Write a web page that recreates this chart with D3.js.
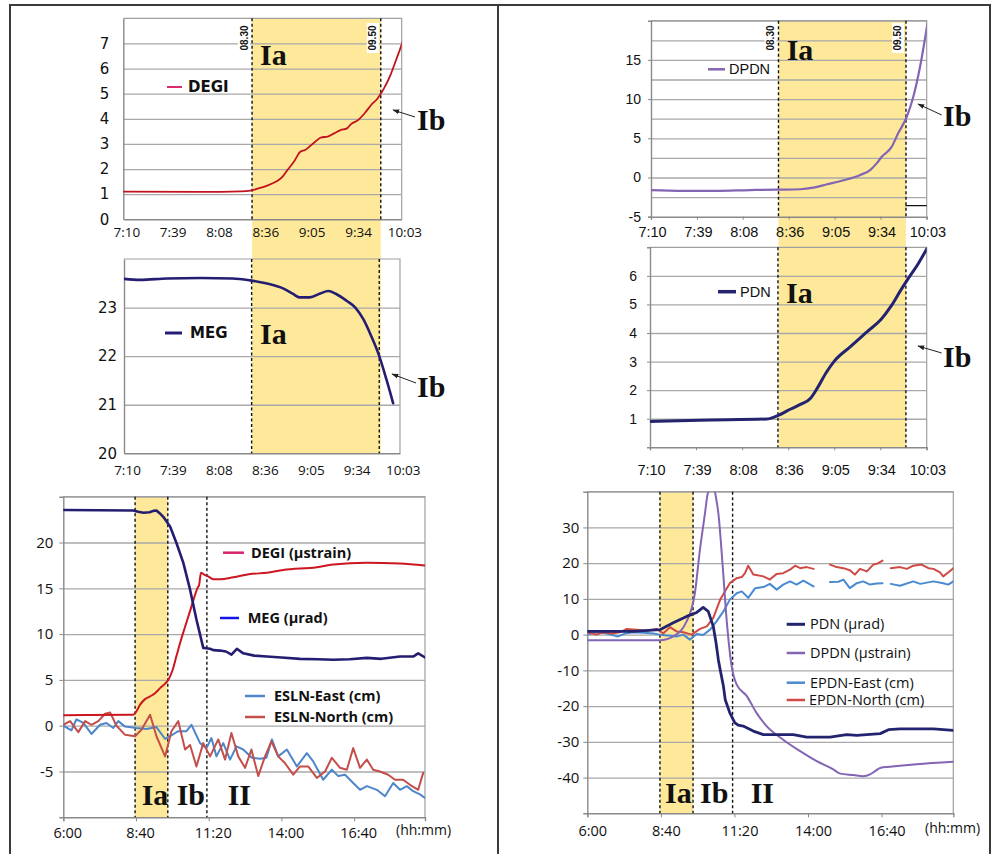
<!DOCTYPE html>
<html>
<head>
<meta charset="utf-8">
<script src="https://cdnjs.cloudflare.com/ajax/libs/d3/7.8.5/d3.min.js"></script>
<style>
  body { margin: 0; background: #fff; }
  svg { display: block; }
</style>
</head>
<body>
<svg id="chart" width="992" height="854"></svg>
<script>
// ---- data (time in minutes after midnight) ----
const topTickT = [430, 458.8, 487.6, 516.4, 545.2, 574, 602.8];
const topTickLabels = ['7:10', '7:39', '8:08', '8:36', '9:05', '9:34', '10:03'];
const bottomTickT = [360, 520, 680, 840, 1000];
const bottomTickLabels = ['6:00', '8:40', '11:20', '14:00', '16:40'];

const topPhaseT = [510, 590];
const topPhaseLabels = ['08.30', '09.50'];
const bottomPhaseT = [518, 590, 676];

const degiTop = [[430,1.1],[478,1.09],[503,1.11],[509,1.14],[514,1.23],[519,1.33],[525,1.5],[529,1.7],[532,1.96],[536,2.29],[540,2.69],[543,2.76],[548.5,3.05],[553,3.26],[557,3.29],[561,3.42],[565,3.55],[569,3.62],[571.5,3.79],[575.5,3.93],[580,4.22],[584,4.55],[588,4.81],[592,5.21],[596,5.74],[599.5,6.34],[602.5,6.87],[603.5,7.07]];

const megTop = [[430,23.59],[440,23.57],[457,23.6],[478,23.61],[498,23.6],[509,23.56],[519,23.5],[530,23.39],[536,23.28],[540,23.21],[546.5,23.21],[553,23.29],[558,23.34],[563,23.28],[569.5,23.14],[575,23.0],[580,22.76],[585,22.41],[590,22.0],[594.5,21.52],[598.7,21.03]];

const dpdnTop = [[430,-1.6],[450,-1.7],[471,-1.7],[492,-1.6],[509,-1.55],[523.5,-1.5],[532,-1.3],[540,-0.9],[551,-0.35],[561,0.3],[567.5,0.95],[571.6,1.8],[574.8,2.65],[581,3.9],[585,5.6],[590.5,7.75],[594.6,10.3],[598.8,14.1],[604,20.3]];
const dpdnStub = [[590,-3.6],[603,-3.6]];

const pdnTop = [[430,0.9],[461,0.95],[503,0.99],[509.5,1.1],[518,1.34],[524,1.5],[530.4,1.72],[534.6,2.07],[540,2.6],[545,3.0],[555.5,3.53],[566,4.06],[574.4,4.47],[580.6,4.93],[587,5.52],[591,5.87],[597.4,6.4],[603.6,7.0]];

const degiDay = [[360,1.15],[514,1.2],[520,1.5],[529,2.3],[540,2.9],[551,3.2],[562,3.55],[573,4.1],[584,4.6],[591,5.0],[600,6.0],[609,7.6],[618,9.2],[628,10.8],[642,13.0],[655,15.0],[659,15.4],[663,16.7],[670,16.5],[679,16.3],[690,16.0],[705,16.0],[734,16.2],[771,16.55],[808,16.7],[844,17.0],[918,17.3],[954,17.6],[1028,17.8],[1101,17.7],[1156,17.5]];

const megDay = [[360,23.55],[514,23.5],[525,23.35],[536,23.25],[550,23.3],[558,23.45],[565,23.5],[572,23.2],[580,22.8],[595,21.75],[609,19.95],[624,17.8],[639,14.85],[653,11.6],[668,8.5],[675,8.45],[683,8.4],[690,8.25],[705,8.2],[718,8.1],[730,7.75],[742,8.4],[756,7.9],[780,7.65],[808,7.55],[840,7.45],[881,7.3],[920,7.25],[954,7.2],[990,7.25],[1028,7.4],[1060,7.3],[1101,7.55],[1130,7.55],[1141,7.9],[1156,7.45]];

const eslnEast = [[360,0],[378,-0.5],[389,0.7],[404,0.3],[422,-0.9],[441,0.1],[455,0.3],[470,-0.25],[481,0.5],[496,-0.1],[521,-0.25],[543,-0.35],[565,-0.15],[584,-1.45],[595,-1.15],[613,-0.6],[631,-0.6],[642,0.1],[661,-1.9],[675,-2.45],[686,-1.35],[697,-3.35],[712,-1.9],[727,-3.7],[741,-2.25],[756,-2.6],[775,-3.5],[793,-3.6],[807,-3.5],[819,-1.5],[833,-3.35],[852,-2.6],[874,-4.45],[896,-3.0],[910,-3.9],[932,-5.9],[951,-4.8],[965,-5.5],[980,-5.35],[998,-6.25],[1013,-7.0],[1028,-6.6],[1050,-7.0],[1068,-7.7],[1086,-6.25],[1101,-7.0],[1116,-6.6],[1130,-7.15],[1145,-7.5],[1156,-7.9]];

const eslnNorth = [[360,0.1],[375,0.5],[393,-0.7],[408,0.5],[422,0.1],[437,0.5],[452,1.3],[463,1.45],[477,0],[496,-1.0],[518,-1.15],[532,-0.45],[551,1.2],[565,-1.15],[584,-3.35],[598,-0.6],[613,0.5],[628,-2.6],[639,-2.1],[653,-4.45],[668,-1.9],[683,-3.35],[701,-1.5],[716,-3.7],[730,-0.8],[745,-3.35],[760,-4.6],[774,-2.6],[789,-5.5],[804,-3.35],[818,-1.7],[833,-3.35],[848,-4.1],[866,-5.35],[881,-4.45],[899,-4.45],[918,-5.7],[936,-5.0],[951,-3.5],[969,-4.6],[984,-4.8],[998,-2.45],[1013,-4.6],[1028,-3.7],[1042,-4.8],[1057,-5.0],[1075,-5.35],[1090,-5.9],[1108,-5.9],[1123,-6.45],[1141,-7.0],[1152,-5.15]];

const pdnDay = [[360,0.9],[460,0.9],[518,1.4],[547,3.3],[576,5.1],[598,6.2],[612,7.6],[623,6.5],[634,2.3],[640,-2.3],[645,-7.0],[649,-9.8],[656,-14.4],[660,-18.2],[670,-21.9],[681,-24.7],[688,-25.3],[699,-25.6],[721,-27],[743,-28],[772,-28],[808,-28],[837,-28.7],[888,-28.7],[924,-28],[946,-28.2],[997,-27.7],[1015,-26.6],[1040,-26.4],[1113,-26.4],[1156,-26.8]];

const dpdnDay = [[360,-1.6],[518,-1.6],[547,-0.5],[576,3.7],[594,11.6],[605,23.8],[616,34],[622,39.5],[628,40.8],[636,40.5],[641,37.5],[645,34],[654,20],[663,4.2],[674,-8.9],[685,-14],[707,-17.2],[728,-21.9],[750,-25.6],[786,-29.4],[823,-32.6],[859,-35.4],[895,-37.7],[910,-38.9],[939,-39.3],[960,-39.6],[975,-39.1],[986,-38.2],[997,-37.3],[1018,-37],[1076,-36.3],[1156,-35.6]];

const epdnEast = [[360,0],[380,0.65],[402,0.3],[427,-0.5],[442,0.3],[460,0.65],[482,0.5],[504,0.3],[518,0],[540,-0.3],[554,-0.5],[569,0],[583,-1.4],[598,0.2],[612,-0.1],[627,1.4],[641,3.7],[656,6.5],[670,9.8],[685,11.6],[696,12.1],[710,10.3],[725,13],[743,13.3],[757,14.2],[772,12.6],[786,14],[801,14.9],[815,14],[830,15.1],[852,13.5],[870,null],[888,14.7],[906,14.8],[917,15.4],[931,13],[946,14.4],[960,14.9],[975,14],[989,14.3],[1002,14.4],[1011,null],[1020,14.2],[1040,13.7],[1069,14.9],[1084,14.2],[1113,14.9],[1134,14.4],[1145,14],[1156,14.9]];

const epdnNorth = [[360,0.65],[380,0],[395,0.65],[413,0.3],[431,0.65],[446,1.6],[467,1.4],[489,1.1],[511,1.6],[525,0.3],[540,2.1],[554,0.9],[569,0.65],[587,0],[605,1.6],[620,2.3],[634,4.7],[649,9.8],[670,14.4],[685,15.8],[696,16.1],[703,17.2],[710,19.3],[721,16.8],[743,16.3],[757,15.4],[772,17],[786,17.2],[801,18.2],[812,19.3],[823,18.6],[837,18.9],[852,18.4],[870,null],[888,19.6],[902,18.9],[917,18.6],[931,18],[942,16.8],[953,18.4],[968,17.7],[982,19.6],[993,20],[1002,20.7],[1011,null],[1020,18.6],[1040,18.9],[1055,18.4],[1069,19.3],[1087,19.6],[1102,18.6],[1113,18.4],[1127,17.4],[1134,16.3],[1145,17.4],[1156,18.6]];

// ---- styling ----
const YELLOW = '#fee99a';
const GRID = '#a9a9a9';
const AXIS = '#8a8a8a';
const SERIF = '"Liberation Serif", "Times New Roman", serif';
const CALI = '"Open Sans", "Noto Sans", sans-serif';
const NARROW = '"Liberation Sans Narrow", "Liberation Sans", Arial, sans-serif';
const VERD = '"DejaVu Sans", Verdana, sans-serif';

const svg = d3.select('#chart');

svg.append('defs').append('marker')
  .attr('id', 'arrow').attr('viewBox', '0 0 10 10')
  .attr('refX', 9).attr('refY', 5)
  .attr('markerWidth', 7).attr('markerHeight', 7)
  .attr('orient', 'auto')
  .append('path').attr('d', 'M0,1.5L10,5L0,8.5Z').attr('fill', '#222');

const fmtTop = (d) => topTickLabels[topTickT.indexOf(d)];
const fmtBottom = (d) => bottomTickLabels[bottomTickT.indexOf(d)];
const fmtY = (d) => String(d); // plain hyphen minus, as in the source

let clipId = 0;

function drawPanel(o) {
  const g = svg.append('g');
  const x = d3.scaleLinear().domain(o.xDomain).range([o.left, o.right]);
  const y = d3.scaleLinear().domain(o.yDomain).range([o.bottom, o.top]);
  const w = o.right - o.left;

  // yellow phase band
  if (o.band) {
    const by = o.bandY || [o.top, o.bottom];
    g.append('rect')
      .attr('x', x(o.band[0])).attr('width', x(o.band[1]) - x(o.band[0]))
      .attr('y', by[0]).attr('height', by[1] - by[0])
      .attr('fill', YELLOW);
  }

  // gridlines
  g.append('g')
    .attr('transform', `translate(${o.left},0)`)
    .call(d3.axisLeft(y).tickValues(o.grid).tickSize(-w).tickFormat(''))
    .call(s => s.select('.domain').remove())
    .selectAll('line').attr('stroke', GRID).attr('stroke-width', 1.3);

  // frame (top / right)
  g.append('path')
    .attr('d', `M${o.left},${o.top}H${o.right}V${o.bottom}`)
    .attr('fill', 'none').attr('stroke', '#a0a0a0').attr('stroke-width', 1.2);

  // y axis
  const ya = g.append('g')
    .attr('transform', `translate(${o.left},0)`)
    .call(d3.axisLeft(y).tickValues(o.yTicks).tickSize(o.tick || 0).tickPadding(o.yGap)
      .tickFormat(fmtY));
  ya.select('.domain').attr('stroke', AXIS).attr('stroke-width', 1.4);
  ya.selectAll('.tick line').attr('stroke', AXIS);
  ya.selectAll('text').attr('font-family', o.yFont).attr('font-size', o.ySize).attr('fill', '#111');

  // x axis
  const xa = g.append('g')
    .attr('transform', `translate(0,${o.bottom})`)
    .call(d3.axisBottom(x).tickValues(o.xTicks).tickSize(o.tick || 0).tickFormat(o.xFormat));
  xa.select('.domain').attr('stroke', AXIS).attr('stroke-width', 1.4);
  xa.selectAll('.tick line').attr('stroke', AXIS);
  xa.selectAll('text')
    .attr('font-family', o.xFont).attr('font-size', o.xSize).attr('fill', '#111')
    .attr('dy', null).attr('y', o.xLabelY).attr('dx', o.xLabelDx || 0);

  // phase dashed lines
  g.selectAll('line.phase').data(o.phases).join('line')
    .attr('class', 'phase')
    .attr('x1', (d) => x(d)).attr('x2', (d) => x(d))
    .attr('y1', o.top).attr('y2', o.bottom)
    .attr('stroke', '#111').attr('stroke-width', 1.4).attr('stroke-dasharray', '3,2.5');

  // series
  const cid = 'clip' + (clipId++);
  svg.select('defs').append('clipPath').attr('id', cid)
    .append('rect').attr('x', o.left).attr('y', o.top).attr('width', w).attr('height', o.bottom - o.top);
  const sg = g.append('g').attr('clip-path', `url(#${cid})`);
  for (const s of o.series) {
    const line = d3.line()
      .defined((d) => d[1] != null)
      .x((d) => x(d[0])).y((d) => y(d[1]))
      .curve(s.smooth ? d3.curveMonotoneX : d3.curveLinear);
    sg.append('path').datum(s.data)
      .attr('d', line)
      .attr('fill', 'none').attr('stroke', s.color).attr('stroke-width', s.width)
      .attr('stroke-linejoin', 'round').attr('stroke-linecap', 'round');
  }

  // legend
  for (const l of o.legend || []) {
    g.append('line')
      .attr('x1', l.x1).attr('x2', l.x2).attr('y1', l.y).attr('y2', l.y)
      .attr('stroke', l.color).attr('stroke-width', l.width || 2.5);
    g.append('text')
      .attr('x', l.tx).attr('y', l.y + 5)
      .attr('font-family', o.legendFont).attr('font-size', o.legendSize)
      .attr('font-weight', o.legendWeight).attr('fill', '#111')
      .text(l.label);
  }

  // big phase labels
  for (const b of o.big || []) {
    g.append('text')
      .attr('x', b.x).attr('y', b.y)
      .attr('font-family', SERIF).attr('font-weight', 'bold').attr('font-size', 30)
      .attr('fill', '#111')
      .text(b.text);
  }
  if (o.arrow) {
    g.append('line')
      .attr('x1', o.arrow[0]).attr('y1', o.arrow[1]).attr('x2', o.arrow[2]).attr('y2', o.arrow[3])
      .attr('stroke', '#222').attr('stroke-width', 1).attr('marker-end', 'url(#arrow)');
  }

  // rotated time stamps of phase limits
  if (o.stamps) {
    topPhaseT.forEach((t, i) => {
      const cx = x(t) - 8, cy = 38;
      g.append('rect').attr('x', cx - 6).attr('y', cy - 15).attr('width', 12).attr('height', 30).attr('fill', '#fff');
      g.append('text')
        .attr('transform', `translate(${cx + 3.5},${cy}) rotate(-90)`)
        .attr('text-anchor', 'middle')
        .attr('font-family', '"Liberation Sans", Arial, sans-serif').attr('font-weight', 'bold')
        .attr('font-size', 10).attr('fill', '#111')
        .text(topPhaseLabels[i]);
    });
  }
  return { x, y, g };
}

// ---- top-left: DEGI ----
drawPanel({
  left: 123.3, right: 401.7, top: 18.3, bottom: 219.3,
  xDomain: [430, 603], yDomain: [0, 8],
  xTicks: topTickT, xFormat: fmtTop, xFont: CALI, xSize: 13.5, xLabelY: 18, xLabelDx: 3,
  yTicks: d3.range(0, 8), grid: d3.range(1, 8), yFont: VERD, ySize: 15, yGap: 14,
  band: topPhaseT, bandY: [18.3, 453.3], phases: topPhaseT, stamps: true,
  series: [{ data: degiTop, color: '#c0131d', width: 1.8, smooth: true }],
  legendFont: VERD, legendSize: 15, legendWeight: 'bold',
  legend: [{ label: 'DEGI', color: '#dc2a6e', x1: 167, x2: 182, y: 87, tx: 188, width: 2 }],
  big: [{ text: 'Ia', x: 260, y: 65 }, { text: 'Ib', x: 417, y: 130 }],
  arrow: [415, 117, 393, 110]
});

// ---- middle-left: MEG ----
drawPanel({
  left: 124, right: 400, top: 259, bottom: 453.3,
  xDomain: [430, 603], yDomain: [20, 24],
  xTicks: topTickT, xFormat: fmtTop, xFont: CALI, xSize: 13.5, xLabelY: 21.7, xLabelDx: 3,
  yTicks: [20, 21, 22, 23], grid: [21, 22, 23], yFont: VERD, ySize: 15, yGap: 7,
  phases: topPhaseT,
  series: [{ data: megTop, color: '#241d72', width: 2.6, smooth: true }],
  legendFont: VERD, legendSize: 15, legendWeight: 'bold',
  legend: [{ label: 'MEG', color: '#241d72', x1: 165, x2: 182, y: 333, tx: 190, width: 3 }],
  big: [{ text: 'Ia', x: 260, y: 344 }, { text: 'Ib', x: 417, y: 397 }],
  arrow: [416, 383, 392, 374]
});

// ---- bottom-left: whole day ----
drawPanel({
  left: 63.3, right: 425, top: 496.7, bottom: 817.3,
  xDomain: [360, 1156], yDomain: [-10, 25],
  xTicks: bottomTickT, xFormat: fmtBottom, xFont: CALI, xSize: 14.5, xLabelY: 21, xLabelDx: 4,
  yTicks: [-5, 0, 5, 10, 15, 20], grid: [-5, 0, 5, 10, 15, 20, 25], yFont: CALI, ySize: 15, yGap: 6,
  tick: 4,
  band: [bottomPhaseT[0], bottomPhaseT[1]], phases: bottomPhaseT,
  series: [
    { data: eslnEast, color: '#4d86c9', width: 2 },
    { data: eslnNorth, color: '#c44e4a', width: 2 },
    { data: degiDay, color: '#cc1620', width: 2, smooth: true },
    { data: megDay, color: '#241d72', width: 2.6 }
  ],
  legendFont: CALI, legendSize: 14.5, legendWeight: 'bold',
  legend: [
    { label: 'DEGI (\u03bcstrain)', color: '#d8246a', x1: 223, x2: 244, y: 552.7, tx: 251 },
    { label: 'MEG (\u03bcrad)', color: '#1414e6', x1: 220, x2: 239, y: 618, tx: 247.7 },
    { label: 'ESLN-East (cm)', color: '#4d86c9', x1: 245, x2: 265, y: 696, tx: 274 },
    { label: 'ESLN-North (cm)', color: '#c44e4a', x1: 245, x2: 265, y: 717, tx: 274 }
  ],
  big: [{ text: 'Ia', x: 141.7, y: 805 }, { text: 'Ib', x: 176.7, y: 805 }, { text: 'II', x: 227.7, y: 805 }]
});

// ---- top-right: DPDN ----
drawPanel({
  left: 651, right: 926.7, top: 20.7, bottom: 216.7,
  xDomain: [430, 603], yDomain: [-5, 20],
  xTicks: topTickT, xFormat: fmtTop, xFont: NARROW, xSize: 14.5, xLabelY: 20, xLabelDx: 1,
  yTicks: [-5, 0, 5, 10, 15], grid: d3.range(-2.5, 20.1, 2.5), yFont: NARROW, ySize: 14, yGap: 7,
  tick: 3,
  band: topPhaseT, bandY: [20.7, 447.3], phases: topPhaseT, stamps: true,
  series: [
    { data: dpdnTop, color: '#8465b3', width: 2.2, smooth: true },
    { data: dpdnStub, color: '#111', width: 1.2 }
  ],
  legendFont: NARROW, legendSize: 14.5, legendWeight: 'normal',
  legend: [{ label: 'DPDN', color: '#8465b3', x1: 708, x2: 725, y: 69.3, tx: 729 }],
  big: [{ text: 'Ia', x: 786.7, y: 60 }, { text: 'Ib', x: 943, y: 126 }],
  arrow: [941.7, 115, 918, 104]
});

// ---- middle-right: PDN ----
drawPanel({
  left: 650, right: 926.7, top: 247.3, bottom: 447.3,
  xDomain: [430, 603], yDomain: [0, 7],
  xTicks: topTickT, xFormat: fmtTop, xFont: NARROW, xSize: 14.5, xLabelY: 27.7, xLabelDx: 1,
  yTicks: [1, 2, 3, 4, 5, 6], grid: [1, 2, 3, 4, 5, 6], yFont: NARROW, ySize: 14, yGap: 10,
  tick: 3,
  phases: topPhaseT,
  series: [{ data: pdnTop, color: '#232370', width: 3, smooth: true }],
  legendFont: NARROW, legendSize: 14.5, legendWeight: 'normal',
  legend: [{ label: 'PDN', color: '#232370', x1: 718, x2: 736, y: 291.7, tx: 740, width: 3.5 }],
  big: [{ text: 'Ia', x: 786, y: 303 }, { text: 'Ib', x: 943, y: 367 }],
  arrow: [941.7, 353, 918, 346]
});

// ---- bottom-right: whole day ----
drawPanel({
  left: 587.3, right: 953.3, top: 491.7, bottom: 813.3,
  xDomain: [360, 1156], yDomain: [-50, 40],
  xTicks: bottomTickT, xFormat: fmtBottom, xFont: CALI, xSize: 14.5, xLabelY: 23, xLabelDx: 5,
  yTicks: [-40, -30, -20, -10, 0, 10, 20, 30], grid: [-40, -30, -20, -10, 0, 10, 20, 30, 40],
  yFont: CALI, ySize: 15, yGap: 4, tick: 4,
  band: [bottomPhaseT[0], bottomPhaseT[1]], phases: bottomPhaseT,
  series: [
    { data: epdnEast, color: '#4a8ad0', width: 2 },
    { data: epdnNorth, color: '#cf4a44', width: 2 },
    { data: dpdnDay, color: '#8465b3', width: 2, smooth: true },
    { data: pdnDay, color: '#232370', width: 2.8 }
  ],
  legendFont: CALI, legendSize: 14.5, legendWeight: 'normal',
  legend: [
    { label: 'PDN (\u03bcrad)', color: '#232370', x1: 786.7, x2: 805, y: 624.3, tx: 810, width: 3 },
    { label: 'DPDN (\u03bcstrain)', color: '#8465b3', x1: 786.7, x2: 805, y: 653, tx: 810 },
    { label: 'EPDN-East (cm)', color: '#4a8ad0', x1: 786.7, x2: 805, y: 682.7, tx: 810 },
    { label: 'EPDN-North (cm)', color: '#cf4a44', x1: 786.7, x2: 805, y: 700, tx: 809 }
  ],
  big: [{ text: 'Ia', x: 665, y: 803 }, { text: 'Ib', x: 700, y: 803 }, { text: 'II', x: 750.7, y: 803 }]
});

// unit label for the day-long time axes
[[396, 835], [925, 833]].forEach(([tx, ty]) => {
  svg.append('text').attr('x', tx).attr('y', ty)
    .attr('font-family', CALI).attr('font-size', 14).attr('fill', '#111')
    .text('(hh:mm)');
});

// outer frame with column divider
svg.append('path')
  .attr('d', 'M10,854V5H990V854M498,5V854')
  .attr('fill', 'none').attr('stroke', '#3a3a3a').attr('stroke-width', 2);
</script>
</body>
</html>
